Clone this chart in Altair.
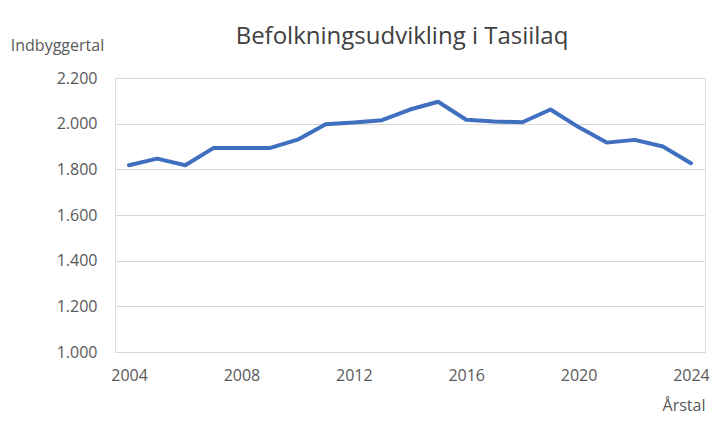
import altair as alt
import pandas as pd

years = list(range(2004, 2025))
population = [1818, 1847, 1818, 1893, 1893, 1893, 1930, 1997, 2005, 2015,
              2062, 2096, 2017, 2010, 2006, 2062, 1985, 1917, 1929, 1900, 1827]
x_ticks = [2004, 2008, 2012, 2016, 2020, 2024]
y_ticks = [1000, 1200, 1400, 1600, 1800, 2000, 2200]

df = pd.DataFrame({"year": years, "pop": population})

FONT = "Open Sans"
GRAY = "#595959"

chart = alt.Chart(df).mark_line(color="#3F6FBE", strokeWidth=4, strokeJoin="round", strokeCap="round").encode(
    x=alt.X("year:Q",
            scale=alt.Scale(domain=[2003.5, 2024.5], nice=False, zero=False),
            axis=alt.Axis(values=x_ticks, format="d", grid=False, domain=False, ticks=False,
                          labelFont=FONT, labelFontSize=16, labelColor=GRAY, labelPadding=15,
                          title="Årstal", titleFont=FONT, titleFontSize=16, titleFontWeight="normal",
                          titleColor=GRAY, titleAnchor="end", titleAlign="right",
                          titleX=590, titleY=53, titleBaseline="middle")),
    y=alt.Y("pop:Q",
            scale=alt.Scale(domain=[1000, 2200], nice=False, zero=False),
            axis=alt.Axis(values=y_ticks, grid=True, gridColor="#D9D9D9", gridWidth=1.2,
                          domain=False, ticks=False,
                          labelExpr="replace(format(datum.value, ','), ',', '.')",
                          labelFont=FONT, labelFontSize=16, labelColor=GRAY, labelPadding=18,
                          title="Indbyggertal", titleFont=FONT, titleFontSize=16, titleFontWeight="normal",
                          titleColor=GRAY, titleAngle=0, titleAlign="center",
                          titleX=-58, titleY=-33, titleBaseline="middle")),
).properties(
    width=590,
    height=274,
    padding={"left": 107, "top": 70, "right": 6, "bottom": 75},
    autosize=alt.AutoSizeParams(type="none"),
    title=alt.TitleParams("Befolkningsudvikling i Tasiilaq", font=FONT, fontSize=24,
                          fontWeight="normal", color="#404040", anchor="middle",
                          dx=-8, dy=12, offset=0, frame="group"),
).configure_view(stroke=None).configure(background="white")

chart.save("out.html", embed_options={"renderer": "svg", "actions": False})
